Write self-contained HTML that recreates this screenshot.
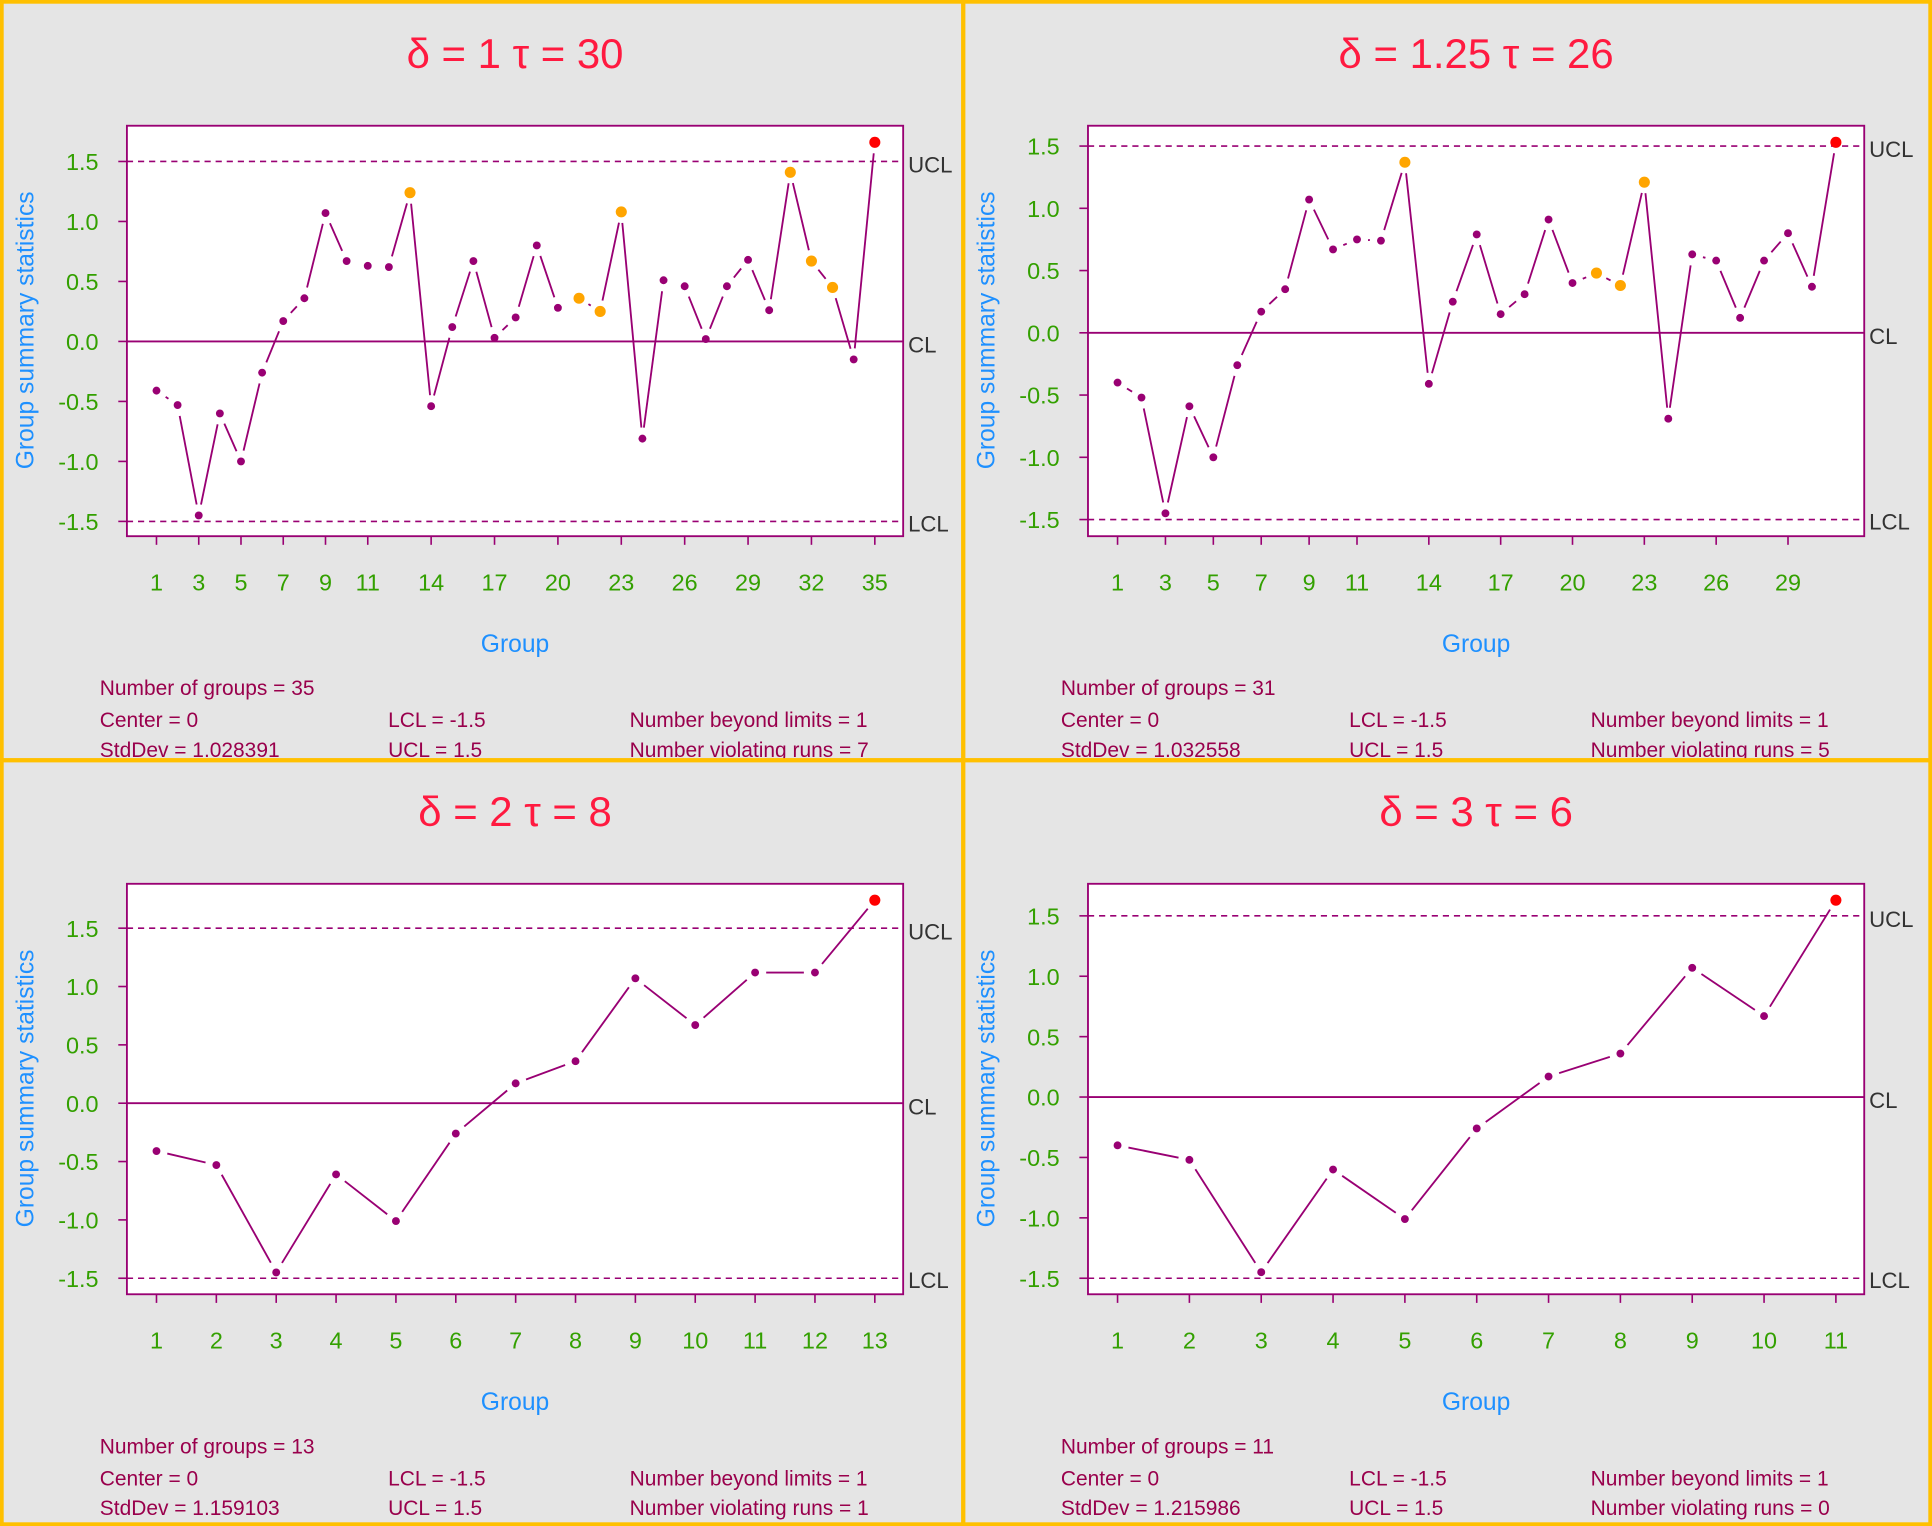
<!DOCTYPE html>
<html><head><meta charset="utf-8"><style>
html,body{margin:0;padding:0;background:#e5e5e5}
svg{display:block}
</style></head><body>
<svg id="s" width="1932" height="1526" viewBox="0 0 1568 1238" preserveAspectRatio="none" xmlns="http://www.w3.org/2000/svg" font-family="Liberation Sans, Arial, sans-serif">
<rect x="0" y="0" width="1568" height="1238" fill="#e5e5e5"/>
</svg>
<script>
const P='#990073',G='#33a000',B='#1e90ff',R='#ff1a40',O='#ffa500';
const panels=[
{ox:0,oy:0,title:'δ = 1 τ = 30',vals:[-0.41,-0.53,-1.45,-0.60,-1.0,-0.26,0.17,0.36,1.07,0.67,0.63,0.62,1.24,-0.54,0.12,0.67,0.03,0.20,0.80,0.28,0.36,0.25,1.08,-0.81,0.51,0.46,0.02,0.46,0.68,0.26,1.41,0.67,0.45,-0.15,1.66],
 org:[13,21,22,23,31,32,33],ticks:[1,3,5,7,9,11,14,17,20,23,26,29,32,35],y15:131,y0:277,yl:423,
 st:['35','1.028391','7']},
{ox:780,oy:0,title:'δ = 1.25 τ = 26',vals:[-0.40,-0.52,-1.45,-0.59,-1.0,-0.26,0.17,0.35,1.07,0.67,0.75,0.74,1.37,-0.41,0.25,0.79,0.15,0.31,0.91,0.40,0.48,0.38,1.21,-0.69,0.63,0.58,0.12,0.58,0.80,0.37,1.53],
 org:[13,21,22,23],ticks:[1,3,5,7,9,11,14,17,20,23,26,29],y15:120,y0:270,yl:423,
 st:['31','1.032558','5']},
{ox:0,oy:615,title:'δ = 2 τ = 8',vals:[-0.41,-0.53,-1.45,-0.61,-1.01,-0.26,0.17,0.36,1.07,0.67,1.12,1.12,1.74],
 org:[],ticks:[1,2,3,4,5,6,7,8,9,10,11,12,13],y15:139,y0:280,yl:423,
 st:['13','1.159103','1']},
{ox:780,oy:615,title:'δ = 3 τ = 6',vals:[-0.40,-0.52,-1.45,-0.60,-1.01,-0.26,0.17,0.36,1.07,0.67,1.63],
 org:[],ticks:[1,2,3,4,5,6,7,8,9,10,11],y15:129,y0:275,yl:423,
 st:['11','1.215986','0']}];
let h='';
for(const p of panels){
 const ox=p.ox,oy=p.oy;
 const bx=103+ox,bw=630,by=102+oy,bh=333;
 const unit=(p.yl-p.y15)/3;const Y=v=>oy+p.y0-v*unit;
 const n=p.vals.length,X=i=>ox+127+(i-1)*583/(n-1);
 h+=`<text x="${ox+418}" y="${oy+55}" font-size="34" fill="${R}" text-anchor="middle">${p.title}</text>`;
 h+=`<rect x="${bx}" y="${by}" width="${bw}" height="${bh}" fill="#fff" stroke="${P}" stroke-width="1.5"/>`;
 h+=`<line x1="${bx}" x2="${bx+bw}" y1="${Y(0)}" y2="${Y(0)}" stroke="${P}" stroke-width="1.5"/>`;
 for(const v of [1.5,-1.5])h+=`<line x1="${bx}" x2="${bx+bw}" y1="${Y(v)}" y2="${Y(v)}" stroke="${P}" stroke-width="1.3" stroke-dasharray="5,4"/>`;
 h+=`<text x="${ox+737}" y="${Y(1.5)+9}" font-size="18" fill="#333">UCL</text>`;
 h+=`<text x="${ox+737}" y="${Y(0)+9}" font-size="18" fill="#333">CL</text>`;
 h+=`<text x="${ox+737}" y="${Y(-1.5)+8}" font-size="18" fill="#333">LCL</text>`;
 for(let v=-1.5;v<=1.51;v+=0.5){const y=Y(v);h+=`<line x1="${bx-7}" x2="${bx}" y1="${y}" y2="${y}" stroke="${P}" stroke-width="1.3"/><text x="${bx-23}" y="${y+7}" font-size="19" fill="${G}" text-anchor="end">${v.toFixed(1)}</text>`;}
 for(const t of p.ticks){const x=X(t);h+=`<line x1="${x}" x2="${x}" y1="${by+bh}" y2="${by+bh+7}" stroke="${P}" stroke-width="1.3"/><text x="${x}" y="${oy+479}" font-size="19" fill="${G}" text-anchor="middle">${t}</text>`;}
 h+=`<text x="${ox+418}" y="${oy+529}" font-size="20" fill="${B}" text-anchor="middle">Group</text>`;
 h+=`<text transform="translate(${ox+27},${oy+268}) rotate(-90)" font-size="20" fill="${B}" text-anchor="middle">Group summary statistics</text>`;
 const g=9;
 for(let i=1;i<n;i++){const x1=X(i),y1=Y(p.vals[i-1]),x2=X(i+1),y2=Y(p.vals[i]);const dx=x2-x1,dy=y2-y1,L=Math.hypot(dx,dy);if(L<2*g+1)continue;const ux=dx/L,uy=dy/L;
  h+=`<line x1="${x1+ux*g}" y1="${y1+uy*g}" x2="${x2-ux*g}" y2="${y2-uy*g}" stroke="${P}" stroke-width="1.5"/>`;}
 for(let i=1;i<=n;i++){let c=P,r=3.2;if(p.org.includes(i)){c=O;r=4.5}if(i==n){c='#ff0000';r=4.5}
  h+=`<circle cx="${X(i)}" cy="${Y(p.vals[i-1])}" r="${r}" fill="${c}"/>`;}
 const ts=(x,y,s)=>`<text x="${ox+x}" y="${oy+y}" font-size="17" fill="#99004c">${s}</text>`;
 h+=ts(81,564,'Number of groups = '+p.st[0]);
 h+=ts(81,590,'Center = 0')+ts(315,590,'LCL = -1.5')+ts(511,590,'Number beyond limits = 1');
 h+=ts(81,614,'StdDev = '+p.st[1])+ts(315,614,'UCL = 1.5')+ts(511,614,'Number violating runs = '+p.st[2]);
}
h+=`<rect x="1.5" y="1.5" width="780" height="615" fill="none" stroke="#ffc000" stroke-width="3"/>`;
h+=`<rect x="782" y="1.5" width="784.5" height="615" fill="none" stroke="#ffc000" stroke-width="3"/>`;
h+=`<rect x="1.5" y="617" width="780" height="619.5" fill="none" stroke="#ffc000" stroke-width="3"/>`;
h+=`<rect x="782" y="617" width="784.5" height="619.5" fill="none" stroke="#ffc000" stroke-width="3"/>`;
document.getElementById('s').insertAdjacentHTML('beforeend',h);
</script>
</body></html>
